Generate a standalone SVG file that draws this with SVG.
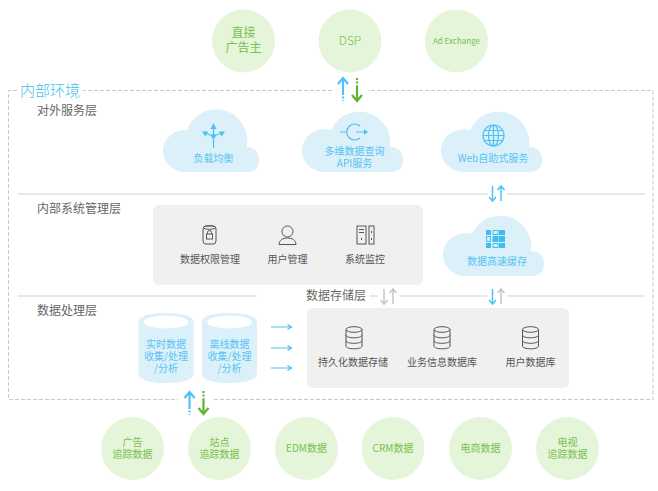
<svg xmlns="http://www.w3.org/2000/svg" width="658" height="491" viewBox="0 0 658 491">
<style>
text{font-family:"Noto Sans CJK SC","Noto Sans",sans-serif;text-anchor:middle;font-weight:400}
.disc{fill:#e5f5da}
.g{fill:#78c04c;font-size:10px}
.g2{fill:#78c04c;font-size:12px}
.b{fill:#55c4f3;font-size:10px}
.d{fill:#555;font-size:10px}
.h{fill:#666;font-size:12px;text-anchor:start}
.cloud{fill:#dcf0f9}
.panel{fill:#f0f0f0}
.ic{fill:none;stroke:#555;stroke-width:1}
.ib{fill:none;stroke:#4cc0f2;stroke-width:1.2}
.rule{stroke:#e2e2e2;stroke-width:1.5;fill:none}
.dash{stroke:#c8c8c8;stroke-width:1;stroke-dasharray:4 2;fill:none}
.ab{stroke:#4fc3f7}.ag{stroke:#5fb52f}.ay{stroke:#c6c6c6}
</style>
<defs>
<path id="cloud-n" d="M22 62A22 21 0 0 1 0 41A22 21 0 0 1 24 20A31 31 0 0 1 83.500 37Q96 37.500 96 50Q96 62 84 62Z"/>
<path id="cloud-w" d="M23 62A23 21 0 0 1 0 41A23 21 0 0 1 29 20A31 31 0 0 1 88 37Q101 37.500 101 50Q101 62 88 62Z"/>
<g id="up-big" fill="none"><path d="M0 1V16M-5 7L0 1L5 7" stroke-width="2.2"/><path d="M0 16V24" stroke-width="2.2" stroke-dasharray="2 1.6"/></g>
<g id="down-big" fill="none"><path d="M0 8V23M-5 17L0 23L5 17" stroke-width="2.2"/><path d="M0 0V8" stroke-width="2.2" stroke-dasharray="2 1.6"/></g>
<path id="down-s" fill="none" stroke-width="1.5" d="M0 0V15M-3.500 11L0 15L3.500 11"/>
<path id="up-s" fill="none" stroke-width="1.5" d="M0 15V0M-3.500 4L0 0L3.500 4"/>
<path id="go" fill="none" stroke="#4cc0f2" stroke-width="1.2" d="M0 0H20M16.500 -2.500L20.500 0L16.500 2.500"/>
<g id="db" fill="none" stroke="#555" stroke-width="1">
<ellipse cx="0" cy="-8.500" rx="8" ry="2.800"/>
<path d="M-8 -8.500V8c0 1.800 3.600 2.800 8 2.800s8-1 8-2.800V-8.500M-8 -3c0 1.800 3.600 2.800 8 2.800s8-1 8-2.800M-8 2.500c0 1.800 3.600 2.800 8 2.800s8-1 8-2.800"/>
</g>
<g id="tank">
<path fill="#dcf0f9" d="M-27.500 9C-27.500 3 -15 0 0 0S27.500 3 27.500 9V61C27.500 67 15 70 0 70S-27.500 67 -27.500 61Z"/>
<ellipse cx="0" cy="9" rx="22.500" ry="6.500" fill="#fff"/>
</g>
</defs>

<g id="frame">
<path class="dash" d="M17 90.500H8.500V399.500H178M214 399.500H653V90.500H368M332 90.500H83"/>
<text x="50" y="96" style="font-size:15px;fill:#3fbdf0;font-weight:300">内部环境</text>
</g>

<g id="connectors">
<path class="rule" d="M18 194H488M507 194H645M18 296H257M370 296H378M399 296H487M507 296H645"/>
<use href="#up-big" class="ab" x="343" y="77"/>
<use href="#down-big" class="ag" x="357" y="78"/>
<use href="#up-big" class="ab" x="189.500" y="391"/>
<use href="#down-big" class="ag" x="203.500" y="391"/>
<use href="#down-s" class="ab" x="492.500" y="186"/>
<use href="#up-s" class="ab" x="501" y="186"/>
<use href="#down-s" class="ab" x="492.500" y="289"/>
<use href="#up-s" class="ay" x="501" y="289"/>
<use href="#down-s" class="ay" x="384" y="289"/>
<use href="#up-s" class="ay" x="393" y="289"/>
<use href="#go" x="271" y="327"/>
<use href="#go" x="271" y="348"/>
<use href="#go" x="271" y="368"/>
</g>

<g id="advertiser"><circle class="disc" cx="243.500" cy="41" r="31.500"/><text class="g2" y="37"><tspan x="243.500">直接</tspan><tspan x="243.500" dy="15">广告主</tspan></text></g>
<g id="dsp"><circle class="disc" cx="350" cy="41" r="31.500"/><text class="g2" x="350" y="45" style="font-weight:300">DSP</text></g>
<g id="ad-exchange"><circle class="disc" cx="456.500" cy="41" r="31.500"/><text class="g" x="456.500" y="44" style="font-size:8px">Ad Exchange</text></g>

<g id="layer-labels">
<text class="h" x="37" y="115">对外服务层</text>
<text class="h" x="37" y="213">内部系统管理层</text>
<text class="h" x="37" y="315">数据处理层</text>
<text class="h" x="306" y="300">数据存储层</text>
</g>

<g id="load-balance">
<use href="#cloud-n" class="cloud" x="163" y="110"/>
<path class="ib" d="M213.500 148V128M213.500 136L205 133M213.500 136L222 133"/>
<path fill="#4cc0f2" d="M213.500 123L216.500 129H210.500ZM202 131.500L208 131.500L205.500 136.500ZM225 131.500L219 131.500L221.500 136.500Z"/>
<circle cx="213.500" cy="136" r="2.200" fill="#4cc0f2"/>
<text class="b" x="213.500" y="162">负载均衡</text>
</g>

<g id="query-api">
<use href="#cloud-w" class="cloud" x="302" y="110"/>
<path class="ib" d="M340 132H347M360 126A8 8 0 1 0 360 138M356 132H365"/>
<path fill="#4cc0f2" d="M364 129L368 132L364 135Z"/>
<text class="b" y="154.500"><tspan x="354.500">多维数据查询</tspan><tspan x="354.500" dy="12">API服务</tspan></text>
</g>

<g id="web-self-service">
<use href="#cloud-w" class="cloud" x="441" y="110"/>
<circle class="ib" cx="493.500" cy="135.500" r="10.500"/>
<ellipse class="ib" cx="493.500" cy="135.500" rx="5" ry="10.500"/>
<path class="ib" d="M493.500 125V146M485 130.500H502M483 135.500H504M485 140.500H502"/>
<text class="b" x="493" y="162">Web自助式服务</text>
</g>

<g id="cache">
<use href="#cloud-w" class="cloud" x="443" y="214"/>
<path fill="#3fbdf0" d="M486 230h5v5h-5zM499 230h6v5h-6zM492.500 236h6v6h-6zM499 236h6v6h-6zM486 243h5v5h-5zM499 243h6v5h-6z"/>
<path fill="none" stroke="#3fbdf0" d="M493 230.500h5v4h-5zM486.500 236.500h4v5h-4zM493 243.500h5v4h-5z"/>
<text class="b" x="497" y="265">数据高速缓存</text>
</g>

<g id="management">
<rect class="panel" x="153" y="205" width="270" height="80" rx="6"/>
<rect class="ic" x="203" y="226" width="13" height="18" rx="3"/>
<ellipse class="ic" cx="209.500" cy="227.500" rx="6" ry="1.800"/>
<rect class="ic" x="206.500" y="234" width="6" height="5"/>
<path class="ic" d="M207.500 234V232.500a2 2 0 0 1 4 0V234"/>
<text class="d" x="210" y="263">数据权限管理</text>
<circle class="ic" cx="287.500" cy="231.500" r="5.500"/>
<path class="ic" d="M279 244.500C279 240 283 238 287.500 238S296 240 296 244.500Z"/>
<text class="d" x="287.500" y="263">用户管理</text>
<rect class="ic" x="357" y="226" width="9" height="18"/>
<rect class="ic" x="369" y="226" width="5" height="18"/>
<path class="ic" d="M359 229.500h5M359 232.500h5M361.500 238v2M371.500 231v2M371.500 238v2"/>
<text class="d" x="365" y="263">系统监控</text>
</g>

<g id="storage">
<rect class="panel" x="307" y="308" width="262" height="80" rx="6"/>
<use href="#db" x="354" y="338"/>
<text class="d" x="353" y="366">持久化数据存储</text>
<use href="#db" x="442" y="338"/>
<text class="d" x="442" y="366">业务信息数据库</text>
<use href="#db" x="530.500" y="338"/>
<text class="d" x="530.500" y="366">用户数据库</text>
</g>

<g id="realtime">
<use href="#tank" x="166" y="313"/>
<text class="b" y="348"><tspan x="166">实时数据</tspan><tspan x="166" dy="12">收集/处理</tspan><tspan x="166" dy="11.500">/分析</tspan></text>
</g>
<g id="offline">
<use href="#tank" x="229.500" y="313"/>
<text class="b" y="348"><tspan x="229.500">离线数据</tspan><tspan x="229.500" dy="12">收集/处理</tspan><tspan x="229.500" dy="11.500">/分析</tspan></text>
</g>

<g id="ad-tracking"><circle class="disc" cx="132.500" cy="448.500" r="31.500"/><text class="g" y="446"><tspan x="132.500">广告</tspan><tspan x="132.500" dy="12">追踪数据</tspan></text></g>
<g id="site-tracking"><circle class="disc" cx="219.500" cy="448.500" r="31.500"/><text class="g" y="446"><tspan x="219.500">站点</tspan><tspan x="219.500" dy="12">追踪数据</tspan></text></g>
<g id="edm"><circle class="disc" cx="306.500" cy="448.500" r="31.500"/><text class="g" x="306.500" y="452">EDM数据</text></g>
<g id="crm"><circle class="disc" cx="393" cy="448.500" r="31.500"/><text class="g" x="393" y="452">CRM数据</text></g>
<g id="ecommerce"><circle class="disc" cx="480.500" cy="448.500" r="31.500"/><text class="g" x="480.500" y="452">电商数据</text></g>
<g id="tv-tracking"><circle class="disc" cx="567.500" cy="448.500" r="31.500"/><text class="g" y="446"><tspan x="567.500">电视</tspan><tspan x="567.500" dy="12">追踪数据</tspan></text></g>
</svg>
